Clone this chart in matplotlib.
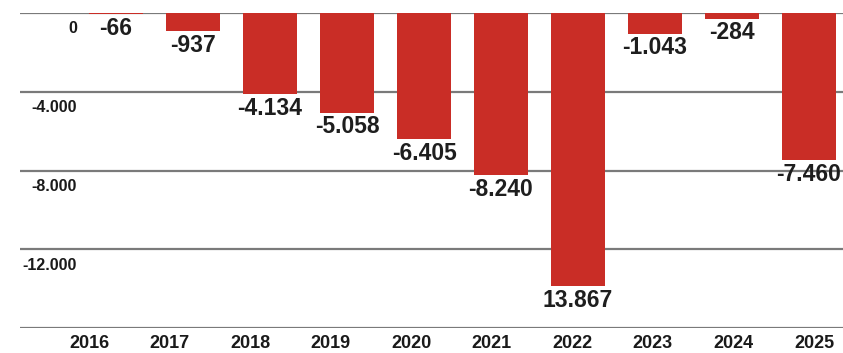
import numpy as np
import matplotlib.pyplot as plt

years = ["2016", "2017", "2018", "2019", "2020", "2021", "2022", "2023", "2024", "2025"]
values = [-66, -937, -4134, -5058, -6405, -8240, -13867, -1043, -284, -7460]
value_labels = ["-66", "-937", "-4.134", "-5.058", "-6.405", "-8.240", "13.867", "-1.043", "-284", "-7.460"]
yticks = [0, -4000, -8000, -12000, -16000]
ytick_labels = ["0", "-4.000", "-8.000", "-12.000", ""]

plt.rcParams['font.family'] = ['Liberation Sans', 'DejaVu Sans']

fig = plt.figure(figsize=(8.43, 3.53), dpi=100)
ax = fig.add_axes([20 / 843, 1 - 328 / 353, 823 / 843, 315 / 353])

x = np.arange(len(years))
ax.bar(x, values, width=0.71, color='#c92d26', zorder=3)

# horizontal rules
for yt in yticks:
    ax.axhline(yt, color='#7a7a7a', lw=1.6, zorder=1)

# y labels sit just under each rule, right aligned
for yt, lab in zip(yticks, ytick_labels):
    ax.annotate(lab, xy=(-0.506, yt), xytext=(0, -6), textcoords='offset points',
                ha='right', va='top', fontsize=11.5, fontweight='bold', color='#1a1a1a')

# value labels under the bar ends
for xi, v, lab in zip(x, values, value_labels):
    ax.annotate(lab, xy=(xi, v), xytext=(0, -2), textcoords='offset points',
                ha='center', va='top', fontsize=16.5, fontweight='bold', color='#1e1e1e',
                zorder=4)

ax.set_xlim(-1.2468, 9.4416)
ax.set_ylim(-16000, 0)

tick_pos = np.linspace(-0.35, 9.065, len(years))
ax.set_xticks(tick_pos)
ax.set_xticklabels(years, fontsize=13, fontweight='bold', color='#1a1a1a')
ax.tick_params(axis='x', length=0, pad=5)
ax.set_yticks([])
for s in ax.spines.values():
    s.set_visible(False)

fig.savefig("out.png", dpi=100)
